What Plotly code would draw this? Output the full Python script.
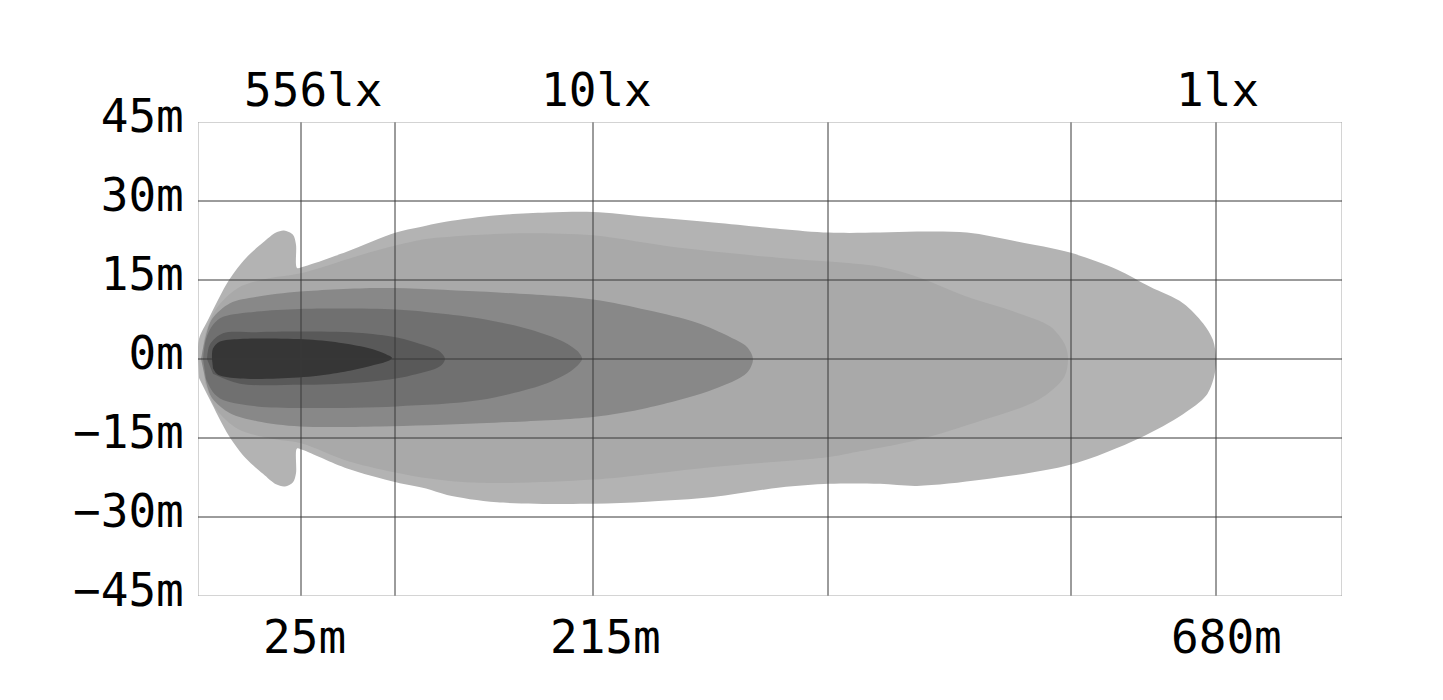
import plotly.graph_objects as go

# ---------------- data ----------------
# plot-unit positions of the grid (x is the drawing's own distance scale)
grid_x = [0, 103, 197, 395, 630, 873, 1018, 1144]
grid_y = [-45, -30, -15, 0, 15, 30, 45]
y_tick_text = ["−45m", "−30m", "−15m", "0m", "15m", "30m", "45m"]

dist_labels = ["25m", "215m", "680m"]
dist_label_x = [106, 407, 1028]
lux_labels = ["556lx", "10lx", "1lx"]
lux_label_x = [115, 398, 1019]

# isolux zones (outer -> inner); x = distance position, y = width in metres
zone_a_x = [0, 1, 11, 31, 48, 65, 78, 86, 95, 98, 99, 105, 148, 198, 228, 249, 299, 349, 395,
            449, 515, 582, 631, 682, 719, 769, 819, 872, 919, 952, 985, 1005, 1015, 1018,
            1016, 1008, 985, 942, 872, 785, 719, 682, 631, 582, 515, 449, 395, 299, 249, 228,
            198, 149, 105, 99, 98, 95, 87, 78, 65, 48, 31, 11, 1]
zone_a_y = [0, 3.8, 7.8, 15.0, 19.2, 22.1, 24.0, 24.4, 23.6, 21.7, 17.3, 17.5, 20.3, 24.0, 25.3,
            26.1, 27.3, 27.8, 27.9, 27.0, 25.9, 24.7, 24.0, 24.0, 24.2, 24.0, 22.3, 20.2, 17.0,
            13.7, 10.6, 6.8, 3.6, 0,
            -3.4, -7.0, -10.5, -15.0, -20.1, -22.9, -24.1, -23.7, -23.7, -24.4, -26.2, -27.1,
            -27.5, -27.2, -25.8, -24.6, -23.4, -20.8, -17.3, -17.0, -21.7, -23.4, -24.2, -23.8,
            -21.8, -18.9, -14.6, -7.4, -3.6]

zone_b_x = [4, 7, 18, 40, 70, 103, 150, 182, 215, 228, 282, 332, 395, 482, 582, 631, 682, 719,
            769, 819, 852, 867, 870,
            866, 840, 785, 719, 652, 631, 515, 395, 282, 228, 152, 103, 70, 40, 18, 7]
zone_b_y = [0, 4.5, 9.5, 13.5, 15.3, 16.3, 19.0, 20.8, 22.3, 22.8, 23.6, 23.9, 23.5, 21.1, 19.2,
            18.5, 17.5, 15.6, 11.8, 8.8, 6.2, 2.7, 0,
            -3.5, -7.8, -11.6, -15.4, -17.9, -18.6, -20.5, -22.9, -23.5, -22.6, -19.5, -16.0,
            -15.0, -13.3, -9.5, -4.5]

zone_c_x = [3, 8, 14, 32, 59, 102, 182, 282, 395, 449, 499, 532, 549, 555,
            549, 515, 449, 395, 282, 182, 102, 59, 32, 14, 8]
zone_c_y = [0, 4.5, 7.6, 10.6, 11.8, 12.8, 13.5, 12.8, 11.3, 9.3, 6.9, 4.2, 2.3, 0,
            -2.6, -5.8, -9.3, -11.0, -12.2, -12.8, -12.8, -11.8, -10.3, -7.4, -4.3]

zone_d_x = [5, 8, 15, 25, 59, 102, 198, 240, 282, 332, 365, 381, 384,
            375, 349, 282, 198, 102, 59, 25, 15, 8]
zone_d_y = [0, 3.8, 6.5, 8.0, 9.0, 9.5, 9.4, 8.7, 7.7, 5.6, 3.3, 1.2, 0,
            -2.0, -4.6, -7.8, -9.0, -9.3, -9.0, -7.8, -6.3, -3.8]

zone_e_x = [9, 12, 25, 59, 102, 159, 199, 225, 242, 247,
            242, 209, 159, 102, 42, 15]
zone_e_y = [0, 2.8, 4.9, 5.1, 5.2, 5.0, 4.1, 2.7, 1.4, 0,
            -1.4, -3.3, -4.5, -4.9, -4.7, -2.8]

zone_f_x = [14, 15, 22, 42, 110, 145, 172, 188, 194,
            190, 175, 150, 120, 80, 42, 20, 15]
zone_f_y = [0, 2.0, 3.3, 3.8, 3.7, 3.0, 2.0, 0.9, 0.2,
            -0.4, -1.2, -2.3, -3.2, -3.7, -3.7, -3.0, -1.8]

zones = [
    (zone_a_x, zone_a_y, "#b3b3b3"),
    (zone_b_x, zone_b_y, "#a9a9a9"),
    (zone_c_x, zone_c_y, "#888888"),
    (zone_d_x, zone_d_y, "#707070"),
    (zone_e_x, zone_e_y, "#595959"),
    (zone_f_x, zone_f_y, "#363636"),
]

FONT = "DejaVu Sans Mono"
FS = 46

fig = go.Figure()
for zx, zy, col in zones:
    fig.add_trace(go.Scatter(
        x=zx, y=zy, mode="lines", fill="toself", fillcolor=col,
        line=dict(width=0, color=col, shape="spline", smoothing=0.9),
        hoverinfo="skip", showlegend=False,
    ))

shapes = []
xmin, xmax = grid_x[0], grid_x[-1]
ymin, ymax = grid_y[0], grid_y[-1]
for gx in grid_x:
    border = gx in (xmin, xmax)
    shapes.append(dict(type="line", xref="x", yref="y", x0=gx, x1=gx, y0=ymin, y1=ymax,
                       line=dict(color="#a8a8a8" if border else "#383838", width=1),
                       layer="above"))
for gy in grid_y:
    border = gy in (ymin, ymax)
    shapes.append(dict(type="line", xref="x", yref="y", x0=xmin, x1=xmax, y0=gy, y1=gy,
                       line=dict(color="#a8a8a8" if border else "#383838", width=1),
                       layer="above"))

annotations = []
for t, x in zip(lux_labels, lux_label_x):
    annotations.append(dict(text=t, x=x, y=1.0675, xref="x", yref="paper", showarrow=False,
                            xanchor="center", yanchor="middle",
                            font=dict(family=FONT, size=FS, color="#000000")))
for t, x in zip(dist_labels, dist_label_x):
    annotations.append(dict(text=t, x=x, y=-0.0865, xref="x", yref="paper", showarrow=False,
                            xanchor="center", yanchor="middle",
                            font=dict(family=FONT, size=FS, color="#000000")))

fig.update_layout(
    width=1443, height=700,
    margin=dict(l=198, r=101, t=122, b=104, pad=0),
    paper_bgcolor="white", plot_bgcolor="white",
    shapes=shapes, annotations=annotations,
    xaxis=dict(range=[xmin, xmax], showgrid=False, zeroline=False, showline=False,
               showticklabels=False, ticks="", fixedrange=True),
    yaxis=dict(range=[ymin, ymax], tickvals=grid_y, ticktext=y_tick_text,
               showgrid=False, zeroline=False, showline=False,
               ticks="outside", ticklen=4, tickcolor="rgba(0,0,0,0)",
               ticklabelshift=-6,
               tickfont=dict(family=FONT, size=FS, color="#000000"), fixedrange=True),
    showlegend=False,
)

fig.write_html("out.html", config={"displayModeBar": False},
               post_script="document.body.style.margin='0';")
